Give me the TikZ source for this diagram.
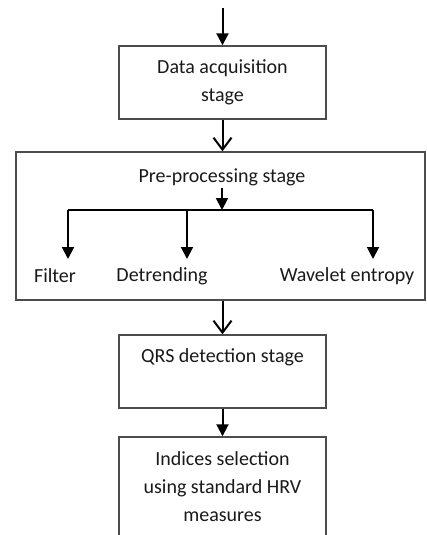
\documentclass[tikz,border=0pt]{standalone}
\usepackage{fontspec}
\setmainfont{Carlito}
\usetikzlibrary{arrows.meta}

\begin{document}
\begin{tikzpicture}[x=0.5pt,y=-0.5pt,
   stage/.style={draw=black!70,line width=0.7pt,minimum width=103.5pt,align=center,inner sep=0pt},
   txt/.style={font=\fontsize{10}{14}\selectfont,text=black!90,align=center,inner sep=1pt},
   fill arrow/.style={line width=1pt,-{Triangle[length=6pt,width=6pt]}},
   open arrow/.style={line width=1pt,-{Straight Barb[length=6pt,width=9pt,line width=1pt]}}]

   \useasboundingbox (0,0) rectangle (427,535);

   \coordinate (Start) at (222.5,8);
   \node (DataAcq) at (222.5,82.5) [stage,minimum height=36.5pt,txt] {Data acquisition\\stage};

   \node (PreProc) at (220.5,226) [stage,minimum width=204.5pt,minimum height=74pt] {};
   \node (PreText) at (222,177) [txt] {Pre-processing stage};
   \coordinate (Split) at (222,210);
   \coordinate (FilterTop) at (68,210);
   \coordinate (DetrendTop) at (187,210);
   \coordinate (WaveletTop) at (373,210);
   \coordinate (FilterEnd) at (68,259);
   \coordinate (DetrendEnd) at (187,259);
   \coordinate (WaveletEnd) at (373,259);
   \node (Filter) at (55,276) [txt] {Filter};
   \node (Detrending) at (162,276) [txt] {Detrending};
   \node (Wavelet) at (347,276) [txt] {Wavelet entropy};

   \node (QRS) at (222.5,371.5) [stage,minimum height=36.5pt] {};
   \node (QRSText) at (222.5,357) [txt] {QRS detection stage};

   \node (Indices) at (222.5,487) [stage,minimum height=50pt,txt] {Indices selection\\using standard HRV\\measures};

   \draw [fill arrow] (Start) -- (DataAcq.north);
   \draw [open arrow] (DataAcq.south) -- (DataAcq.south |- PreProc.north);

   \draw [fill arrow] (PreText.south) -- (Split);
   \draw [line width=1pt] (FilterTop) -- (WaveletTop);
   \draw [fill arrow] (FilterTop) -- (FilterEnd);
   \draw [fill arrow] (DetrendTop) -- (DetrendEnd);
   \draw [fill arrow] (WaveletTop) -- (WaveletEnd);

   \draw [open arrow] (PreProc.south -| QRS.north) -- (QRS.north);
   \draw [fill arrow] (QRS.south) -- (Indices.north);

\end{tikzpicture}
\end{document}
